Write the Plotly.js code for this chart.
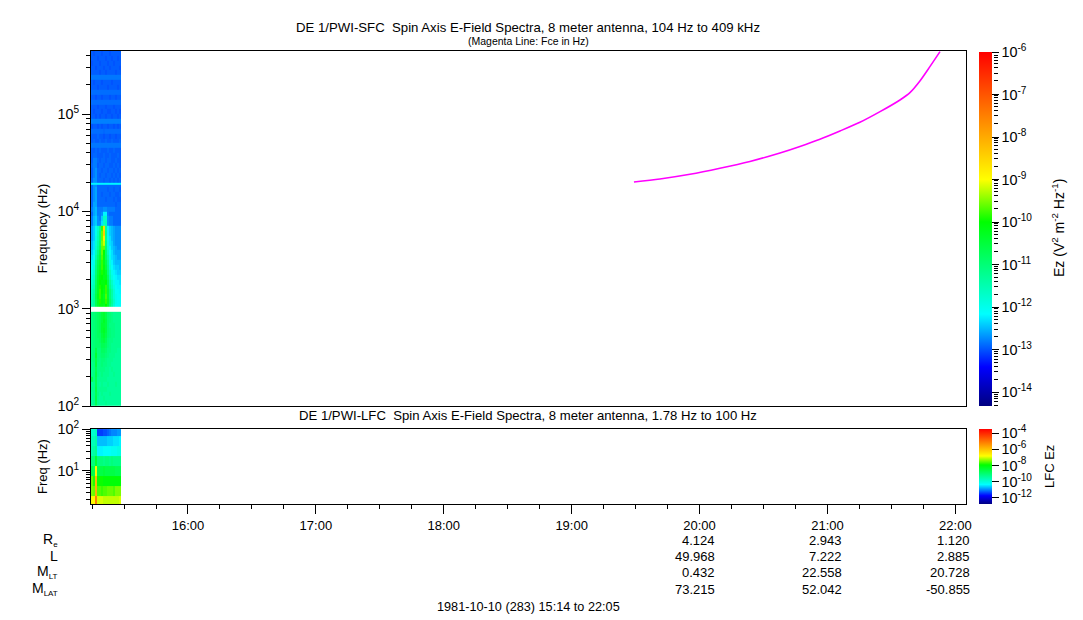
<!DOCTYPE html>
<html><head><meta charset="utf-8">
<script src="https://cdn.plot.ly/plotly-3.0.1.min.js"></script>
<style>html,body{margin:0;padding:0;background:#fff}#chart{width:1083px;height:620px}</style>
</head><body><div id="chart"></div>
<script>
const day = '1981-10-10 ';
const timeEdges = ['15:14:30','15:15:26','15:16:23','15:17:19','15:18:15','15:19:12','15:20:08','15:21:04','15:22:01','15:22:57','15:23:53','15:24:50','15:25:46','15:26:42','15:27:39','15:28:35'];

// SFC channel: frequency bin edges (Hz), bottom to top
const sfcFreqEdges = [100,112,126,141,158,178,200,224,251,282,316,355,398,447,501,562,631,708,794,931,1040,1122,1259,1413,1585,1778,1995,2239,2512,2818,3162,3548,3981,4467,5012,5623,6310,7079,7943,8913,10000,11220,12589,14125,15849,17783,18800,19700,22387,25119,28184,31623,35481,39811,44668,50119,56234,63096,70795,79433,89125,100000,112202,125893,141254,158489,177828,199526,223872,251189,281838,316228,354813,398107,446684];

// log10 of Ez spectral density, one list per frequency bin, bottom to top
const sfcLogEz = [
[-11.3,-11.2,-10.7,-11.2,-11.3,-11.3,-11.3,-11.2,-11.3,-11.3,-11.3,-11.3,-11.3,-11.3,-11.3],
[-11.3,-11.2,-10.6,-11.2,-11.3,-11.3,-11.2,-11.3,-11.3,-11.3,-11.3,-11.3,-11.3,-11.3,-11.3],
[-11.3,-11.2,-10.7,-11.1,-11.3,-11.2,-11.3,-11.3,-11.3,-11.2,-11.3,-11.3,-11.3,-11.3,-11.3],
[-11.2,-11.2,-10.6,-11.2,-11.2,-11.2,-11.2,-11.2,-11.3,-11.3,-11.3,-11.3,-11.3,-11.3,-11.3],
[-11.3,-11.2,-10.7,-11.2,-11.3,-11.2,-11.3,-11.3,-11.2,-11.3,-11.3,-11.3,-11.2,-11.3,-11.3],
[-10.7,-11.1,-10.7,-11.2,-11.2,-11.2,-11.2,-11.2,-11.3,-11.3,-11.3,-11.3,-11.3,-11.3,-11.3],
[-11.2,-11.1,-10.6,-11.1,-11.2,-11.1,-11.2,-11.2,-11.2,-11.3,-11.3,-11.2,-11.3,-11.3,-11.3],
[-11.2,-11.1,-10.7,-11.1,-11.1,-11.1,-11.1,-11.2,-11.2,-11.3,-11.2,-11.3,-11.3,-11.3,-11.3],
[-11.2,-11.1,-10.5,-11.1,-11.1,-11.0,-11.1,-11.1,-11.2,-11.2,-11.3,-11.3,-11.3,-11.3,-11.3],
[-11.1,-11.0,-10.6,-11.0,-11.1,-11.0,-11.0,-11.1,-11.2,-11.2,-11.2,-11.3,-11.3,-11.3,-11.3],
[-11.1,-11.0,-10.4,-11.0,-11.0,-10.9,-10.9,-11.0,-11.1,-11.2,-11.2,-11.2,-11.3,-11.3,-11.3],
[-11.1,-11.0,-10.6,-11.0,-11.0,-10.8,-10.8,-10.9,-11.1,-11.1,-11.2,-11.2,-11.2,-11.3,-11.3],
[-11.1,-11.0,-10.9,-10.9,-10.9,-10.7,-10.7,-10.8,-11.0,-11.1,-11.2,-11.2,-11.2,-11.2,-11.2],
[-11.1,-11.0,-10.9,-10.9,-10.8,-10.6,-10.5,-10.7,-11.0,-11.1,-11.1,-11.2,-11.2,-11.2,-11.2],
[-11.1,-11.0,-10.9,-10.8,-10.8,-10.5,-10.4,-10.6,-10.9,-11.0,-11.1,-11.1,-11.2,-11.2,-11.2],
[-11.1,-11.0,-10.9,-10.8,-10.7,-10.4,-10.3,-10.5,-10.9,-11.0,-11.1,-11.1,-11.2,-11.2,-11.2],
[-11.1,-11.0,-10.9,-10.8,-10.7,-10.4,-10.4,-10.5,-10.9,-11.1,-11.1,-11.1,-11.2,-11.2,-11.2],
[-11.1,-11.0,-10.9,-10.8,-10.7,-10.5,-10.3,-10.5,-10.9,-11.0,-11.1,-11.2,-11.2,-11.2,-11.2],
[-11.1,-11.0,-10.9,-10.8,-10.7,-10.5,-10.4,-10.6,-10.9,-11.0,-11.1,-11.2,-11.2,-11.2,-11.2],
[null,null,null,null,null,null,null,null,null,null,null,null,null,null,null],
[-11.5,-11.3,-10.7,-10.4,-10.2,-10.2,-10.3,-10.0,-10.4,-11.0,-11.4,-11.8,-12.1,-12.1,-12.1],
[-11.5,-11.3,-10.7,-10.3,-9.9,-10.1,-10.2,-9.8,-10.3,-10.9,-11.3,-11.7,-12.0,-12.1,-12.1],
[-11.6,-11.3,-10.6,-10.2,-9.8,-10.1,-10.3,-9.7,-10.4,-11.0,-11.4,-11.8,-12.0,-12.1,-12.1],
[-11.6,-11.4,-10.7,-10.3,-9.8,-10.0,-10.2,-9.8,-10.4,-11.0,-11.4,-11.8,-12.1,-12.1,-12.2],
[-11.7,-11.5,-10.7,-10.3,-9.9,-10.0,-10.1,-9.8,-10.5,-11.2,-11.6,-11.9,-12.1,-12.2,-12.2],
[-11.8,-11.6,-10.8,-10.3,-10.0,-10.1,-10.1,-10.0,-10.6,-11.3,-11.7,-12.0,-12.2,-12.2,-12.3],
[-11.9,-11.7,-10.9,-10.4,-10.1,-10.0,-10.2,-10.2,-10.8,-11.5,-11.9,-12.1,-12.2,-12.3,-12.3],
[-12.0,-11.8,-11.0,-10.5,-10.2,-9.9,-10.1,-10.3,-11.0,-11.6,-12.0,-12.2,-12.3,-12.4,-12.4],
[-12.1,-11.9,-11.1,-10.6,-10.3,-9.8,-10.1,-10.5,-11.1,-11.8,-12.1,-12.3,-12.4,-12.4,-12.5],
[-12.2,-12.0,-11.2,-10.7,-10.4,-9.8,-10.2,-10.6,-11.2,-11.9,-12.2,-12.4,-12.5,-12.5,-12.5],
[-12.3,-12.1,-11.4,-10.9,-10.5,-9.7,-10.1,-10.8,-11.4,-12.0,-12.3,-12.4,-12.5,-12.6,-12.6],
[-12.4,-12.2,-11.6,-11.1,-10.6,-9.6,-10.0,-10.9,-11.6,-12.1,-12.3,-12.5,-12.6,-12.6,-12.6],
[-12.5,-12.3,-11.7,-11.3,-10.8,-9.6,-9.6,-11.0,-11.8,-12.2,-12.4,-12.5,-12.6,-12.7,-12.7],
[-12.5,-12.3,-11.8,-11.4,-10.9,-9.5,-9.2,-11.1,-11.9,-12.3,-12.4,-12.6,-12.7,-12.7,-12.7],
[-12.6,-12.4,-11.9,-11.5,-11.0,-9.6,-8.8,-11.2,-12.0,-12.3,-12.5,-12.6,-12.7,-12.7,-12.7],
[-12.6,-12.4,-12.0,-11.6,-11.0,-9.6,-8.4,-11.2,-12.2,-12.4,-12.5,-12.6,-12.7,-12.7,-12.7],
[-12.6,-12.4,-12.0,-11.7,-11.2,-9.8,-8.6,-11.3,-12.2,-12.4,-12.5,-12.6,-12.7,-12.7,-12.7],
[-12.8,-12.5,-12.4,-12.7,-12.7,-12.3,-11.7,-11.6,-12.7,-12.8,-12.8,-12.9,-12.9,-12.9,-12.9],
[-12.8,-12.5,-12.4,-12.7,-12.8,-12.4,-11.7,-11.7,-12.7,-12.8,-12.8,-12.9,-12.9,-12.9,-12.9],
[-12.9,-12.6,-12.5,-12.8,-12.8,-12.7,-12.2,-12.2,-12.8,-12.9,-12.9,-12.9,-12.9,-12.9,-12.9],
[-12.8,-12.6,-12.5,-12.8,-12.8,-12.8,-12.7,-12.7,-12.8,-12.8,-12.8,-12.8,-12.9,-12.9,-12.9],
[-12.9,-12.6,-12.6,-12.9,-12.9,-12.9,-12.9,-12.9,-12.9,-12.9,-12.9,-12.9,-12.95,-12.9,-12.9],
[-12.9,-12.7,-12.6,-12.9,-12.9,-12.9,-12.9,-12.95,-12.9,-12.9,-12.9,-12.95,-12.9,-12.95,-12.95],
[-12.9,-12.7,-12.6,-12.9,-12.9,-12.95,-12.9,-12.9,-12.9,-12.95,-12.9,-12.9,-12.95,-12.95,-12.9],
[-12.9,-12.7,-12.6,-12.9,-12.9,-12.9,-12.9,-12.9,-12.95,-12.9,-12.9,-12.95,-12.9,-12.9,-12.95],
[-12.9,-12.7,-12.7,-12.9,-12.9,-12.9,-12.9,-12.9,-12.9,-12.9,-12.9,-12.9,-12.9,-12.9,-12.9],
[-12.2,-12.2,-12.2,-12.2,-12.2,-12.2,-12.2,-12.2,-12.2,-12.2,-12.2,-12.2,-12.2,-12.2,-12.2],
[-12.9,-12.7,-12.7,-12.9,-12.9,-12.9,-12.95,-12.9,-12.9,-12.95,-12.9,-12.95,-12.9,-12.95,-12.9],
[-12.95,-12.8,-12.7,-12.9,-12.95,-12.9,-12.9,-12.95,-12.9,-12.9,-12.95,-12.9,-12.95,-12.9,-12.95],
[-12.95,-12.8,-12.7,-12.9,-12.9,-12.95,-12.9,-12.9,-12.95,-12.9,-12.9,-12.95,-12.9,-12.95,-12.9],
[-12.9,-12.8,-12.8,-12.95,-12.9,-12.9,-12.95,-12.9,-12.9,-12.95,-12.95,-12.9,-12.95,-12.9,-12.95],
[-12.95,-12.8,-12.8,-12.9,-12.95,-12.9,-12.9,-12.95,-12.9,-12.9,-12.95,-12.95,-12.9,-12.95,-12.95],
[-12.95,-12.9,-12.9,-12.95,-12.95,-12.95,-12.9,-12.95,-12.95,-12.9,-12.95,-12.95,-12.95,-12.9,-12.95],
[-12.95,-12.95,-12.9,-12.95,-12.9,-12.95,-12.95,-12.95,-12.9,-12.95,-12.95,-12.9,-12.95,-12.95,-12.95],
[-12.82,-12.82,-12.82,-12.82,-12.82,-12.82,-12.82,-12.82,-12.82,-12.82,-12.82,-12.82,-12.82,-12.82,-12.82],
[-12.95,-12.9,-12.95,-12.95,-12.9,-12.95,-12.95,-12.9,-12.95,-12.95,-12.9,-12.95,-12.95,-12.95,-12.9],
[-12.95,-12.95,-12.95,-12.9,-12.95,-12.95,-13.0,-12.95,-12.95,-13.0,-12.95,-12.95,-13.0,-12.95,-12.95],
[-12.87,-12.87,-12.87,-12.87,-12.87,-12.87,-12.9,-12.87,-12.87,-12.87,-12.87,-12.87,-12.87,-12.87,-12.87],
[-13.0,-12.95,-12.95,-13.0,-12.95,-13.0,-12.95,-12.95,-13.0,-12.95,-12.95,-13.0,-12.95,-13.0,-12.95],
[-12.78,-12.78,-12.78,-12.78,-12.78,-12.78,-12.78,-12.78,-12.78,-12.78,-12.78,-12.78,-12.78,-12.78,-12.78],
[-12.95,-12.95,-13.0,-12.95,-13.0,-12.95,-12.95,-13.0,-12.95,-12.95,-13.0,-12.95,-12.95,-13.0,-12.95],
[-12.95,-13.0,-12.95,-12.95,-12.95,-13.0,-12.95,-12.95,-13.0,-13.0,-12.95,-12.95,-13.0,-12.95,-13.0],
[-12.95,-12.95,-12.95,-13.0,-12.95,-12.95,-12.95,-13.0,-12.95,-12.95,-12.95,-13.0,-12.95,-12.95,-12.95],
[-12.87,-12.87,-12.87,-12.87,-12.87,-12.87,-12.87,-12.87,-12.87,-12.87,-12.87,-12.87,-12.87,-12.87,-12.87],
[-12.95,-12.95,-13.0,-12.95,-12.95,-13.0,-12.95,-12.95,-12.95,-13.0,-12.95,-12.95,-13.0,-12.95,-12.95],
[-12.87,-12.87,-12.87,-12.87,-12.87,-12.87,-12.87,-12.87,-12.87,-12.87,-12.87,-12.87,-12.87,-12.87,-12.87],
[-12.95,-12.95,-12.95,-13.0,-12.95,-12.95,-12.95,-12.95,-13.0,-12.95,-12.95,-12.95,-12.95,-13.0,-12.95],
[-12.95,-13.0,-12.95,-12.95,-12.95,-13.0,-12.95,-12.95,-12.95,-12.95,-13.0,-12.95,-12.95,-12.95,-12.95],
[-12.82,-12.82,-12.82,-12.82,-12.82,-12.82,-12.82,-12.82,-12.82,-12.82,-12.82,-12.82,-12.82,-12.82,-12.82],
[-12.95,-12.95,-12.95,-12.95,-13.0,-12.95,-12.95,-13.0,-12.95,-12.95,-12.95,-12.95,-13.0,-12.95,-12.95],
[-12.95,-12.95,-13.0,-12.95,-12.95,-12.95,-13.0,-12.95,-12.95,-13.0,-12.95,-12.95,-12.95,-12.95,-13.0],
[-13.0,-12.95,-12.95,-12.95,-13.0,-12.95,-12.95,-12.95,-13.0,-12.95,-12.95,-13.0,-12.95,-12.95,-12.95],
[-12.95,-12.95,-12.95,-13.0,-12.95,-12.95,-12.95,-13.0,-12.95,-12.95,-13.0,-12.95,-12.95,-13.0,-12.95],
[-12.95,-13.0,-12.95,-12.95,-12.95,-13.0,-12.95,-12.95,-12.95,-13.0,-12.95,-12.95,-12.95,-12.95,-12.95]
];

// LFC channel: frequency bin edges (Hz), bottom to top
const lfcFreqEdges = [1.58,2.5,4.35,7.6,13.2,23,40,69.7,102];
const lfcLogEz = [
[-6.8,-6.8,-5.2,-7.0,-7.0,-7.0,-7.1,-7.1,-7.1,-7.1,-7.1,-7.1,-7.1,-7.1,-7.0],
[-7.4,-7.5,-5.8,-7.6,-7.6,-7.7,-7.6,-7.6,-7.5,-7.5,-7.5,-7.6,-7.4,-7.4,-7.4],
[-7.5,-7.8,-5.9,-7.9,-7.9,-7.9,-8.0,-8.0,-8.0,-8.0,-8.0,-8.0,-8.0,-8.0,-8.0],
[-8.6,-8.7,-6.7,-8.6,-8.6,-8.6,-8.5,-8.6,-8.6,-8.6,-8.6,-8.6,-8.7,-8.7,-8.7],
[-9.1,-9.1,-8.4,-9.1,-9.1,-9.1,-9.2,-9.1,-9.1,-9.2,-9.1,-9.2,-9.2,-9.2,-9.2],
[-9.6,-9.5,-9.3,-10.4,-10.4,-10.4,-10.3,-10.3,-10.3,-10.3,-10.2,-10.2,-10.2,-10.1,-10.1],
[-9.7,-9.7,-9.5,-10.7,-10.7,-10.7,-10.7,-10.7,-10.6,-10.6,-10.6,-10.5,-10.5,-10.5,-10.4],
[-9.9,-9.9,-9.7,-11.4,-11.4,-11.4,-11.3,-11.3,-11.2,-11.1,-11.0,-11.0,-11.0,-10.9,-10.9]
];

// Electron cyclotron frequency line
const fceTimes = ['19:29:13','19:41:25','19:55:30','20:09:33','20:23:38','20:37:44','20:47:06','20:56:28','21:05:53','21:15:14','21:24:40','21:34:01','21:38:42','21:43:23','21:48:04','21:52:48'];
const fceHz = [20050,21530,24050,27730,32580,39810,46450,55080,67000,82300,105900,139600,166000,218800,306900,437500];

// Ephemeris table
const ephemLabels = ['R<sub><span style="font-size:8px">e</span></sub>','L','M<sub><span style="font-size:8px">LT</span></sub>','M<sub><span style="font-size:8px">LAT</span></sub>'];
const ephemTimes = ['20:00:00','21:00:00','22:00:00'];
const ephemRe = ['4.124','2.943','1.120'];
const ephemL = ['49.968','7.222','2.885'];
const ephemMLT = ['0.432','22.558','20.728'];
const ephemMLAT = ['73.215','52.042','-50.855'];
const ephemRows = [ephemRe, ephemL, ephemMLT, ephemMLAT];

// Axis ticks
const hourTicks = ['16:00','17:00','18:00','19:00','20:00','21:00','22:00'];
const sfcExps = [-6,-7,-8,-9,-10,-11,-12,-13,-14];
const lfcExps = [-4,-6,-8,-10,-12];

const FONT = 'Liberation Sans, Arial, sans-serif';
const W = 1083, H = 620;
const fx = p => p / W, fy = p => 1 - p / H;
const rainbow = [[0,'#000080'],[0.11,'#0000ff'],[0.26,'#00ffff'],[0.52,'#00ff00'],[0.64,'#ffff00'],[1,'#ff0000']];
const pow10 = e => '10<sup>' + e + '</sup>';
const dated = a => a.map(t => day + t);
const range = ['1981-10-10 15:14:30','1981-10-10 22:05:00'];
const tf = {family: FONT, size: 13, color: '#000'};
const titleFont = {family: FONT, size: 13.15, color: '#000'};
const logFont = {family: FONT, size: 14.4, color: '#000'};

const traces = [
 {type:'heatmap', x:dated(timeEdges), y:sfcFreqEdges, z:sfcLogEz, xaxis:'x2', yaxis:'y', zauto:false, zmin:-14.32, zmax:-6,
  colorscale:rainbow, hoverongaps:false,
  colorbar:{x:fx(979), xanchor:'left', xpad:0, ypad:0, thickness:13, thicknessmode:'pixels', len:354/H, lenmode:'fraction',
    y:fy(406), yanchor:'bottom', outlinewidth:0, ticks:'outside', ticklen:7, tickwidth:1, tickcolor:'#000',
    tickmode:'array', tickvals:sfcExps, ticktext:sfcExps.map(pow10), tickfont:logFont}},
 {type:'heatmap', x:dated(timeEdges), y:lfcFreqEdges, z:lfcLogEz, xaxis:'x', yaxis:'y2', zauto:false, zmin:-12.75, zmax:-3.5,
  colorscale:rainbow,
  colorbar:{x:fx(979), xanchor:'left', xpad:0, ypad:0, thickness:13, thicknessmode:'pixels', len:75/H, lenmode:'fraction',
    y:fy(504), yanchor:'bottom', outlinewidth:0, ticks:'outside', ticklen:7, tickwidth:1, tickcolor:'#000',
    tickmode:'array', tickvals:lfcExps, ticktext:lfcExps.map(pow10), tickfont:logFont}},
 {type:'scatter', mode:'lines', x:dated(fceTimes), y:fceHz, xaxis:'x2', yaxis:'y', line:{color:'#ff00ff', width:1.6, shape:'spline', smoothing:0.8}, showlegend:false, name:'Fce'},
 // carrier for the colour bar's minor log ticks
 {type:'scatter', mode:'none', x:[], y:[], xaxis:'x2', yaxis:'y3', showlegend:false, hoverinfo:'skip'}
];

const annotations = [
 {text:'(Magenta Line: Fce in Hz)', x:fx(528), y:fy(41), font:{family:FONT,size:10.5,color:'#000'}},
 {text:'DE 1/PWI-LFC\u00a0 Spin Axis E-Field Spectra, 8 meter antenna, 1.78 Hz to 100 Hz', x:fx(528), y:fy(415), font:titleFont},
 {text:'1981-10-10 (283) 15:14 to 22:05', x:fx(528), y:fy(607), font:{family:FONT,size:12.7,color:'#000'}},
 {text:'Ez (V<sup>2</sup> m<sup>-2</sup> Hz<sup>-1</sup>)', x:fx(1058), y:fy(228), textangle:-90, font:{family:FONT,size:14,color:'#000'}},
 {text:'LFC Ez', x:fx(1050), y:fy(467), textangle:-90, font:tf}
].map(a => Object.assign({xref:'paper', yref:'paper', showarrow:false, xanchor:'center', yanchor:'middle'}, a));

const rowY = [540,556,572,589];
ephemLabels.forEach((t,i) => annotations.push({text:t, xref:'paper', yref:'paper', x:fx(60), y:fy(rowY[i]), xanchor:'right', yanchor:'middle', showarrow:false, font:{family:FONT,size:14,color:'#000'}}));
ephemRows.forEach((row,i) => row.forEach((v,j) => annotations.push({text:v, xref:'x', yref:'paper', x:day+ephemTimes[j], y:fy(rowY[i]), xanchor:'right', xshift:17, yanchor:'middle', showarrow:false, font:tf})));

const logMinor = {dtick:'D1', ticks:'outside', ticklen:4, tickwidth:1, tickcolor:'#000', showgrid:false};
const layout = {
 width:W, height:H, margin:{l:0,r:0,t:0,b:0}, paper_bgcolor:'#fff', plot_bgcolor:'#fff', showlegend:false, font:{family:FONT,size:13,color:'#000'},
 title:{text:'DE 1/PWI-SFC\u00a0 Spin Axis E-Field Spectra, 8 meter antenna, 104 Hz to 409 kHz', x:fx(528), xanchor:'center', y:fy(27), yanchor:'middle', font:{family:FONT,size:13.2,color:'#000'}},
 xaxis:{type:'date', domain:[fx(91),fx(966)], range:range, anchor:'y2', showgrid:false, zeroline:false, showline:true, linecolor:'#000', linewidth:1, mirror:true,
   ticks:'outside', ticklen:9, tickcolor:'#000', tickmode:'array', tickvals:hourTicks.map(t=>day+t+':00'), ticktext:hourTicks, tickfont:tf,
   minor:{dtick:900000, ticks:'outside', ticklen:4, tickwidth:1, tickcolor:'#000', showgrid:false}},
 xaxis2:{type:'date', domain:[fx(91),fx(966)], range:range, matches:'x', anchor:'y', showgrid:false, zeroline:false, showline:true, linecolor:'#000', linewidth:1, mirror:true, ticks:'', showticklabels:false},
 yaxis:{type:'log', domain:[fy(406),fy(51)], range:[2,5.648], anchor:'x2', showgrid:false, zeroline:false, showline:true, linecolor:'#000', linewidth:1, mirror:true,
   ticks:'outside', ticklen:8, tickcolor:'#000', tickmode:'array', tickvals:[100,1000,10000,100000], ticktext:[2,3,4,5].map(pow10), tickfont:logFont, minor:logMinor,
   title:{text:'Frequency (Hz)', font:tf, standoff:6}},
 yaxis2:{type:'log', domain:[fy(504),fy(429)], range:[0.198,2.01], anchor:'x', showgrid:false, zeroline:false, showline:true, linecolor:'#000', linewidth:1, mirror:true,
   ticks:'outside', ticklen:8, tickcolor:'#000', tickmode:'array', tickvals:[10,100], ticktext:[1,2].map(pow10), tickfont:logFont, minor:logMinor,
   title:{text:'Freq (Hz)', font:tf, standoff:6}},
 yaxis3:{type:'log', overlaying:'y', side:'right', anchor:'free', position:fx(992.5), range:[-14.32,-6], showgrid:false, zeroline:false, showline:false,
   showticklabels:false, ticks:'', minor:logMinor},
 annotations:annotations
};
Plotly.newPlot('chart', traces, layout, {displayModeBar:false, staticPlot:true});
</script></body></html>
